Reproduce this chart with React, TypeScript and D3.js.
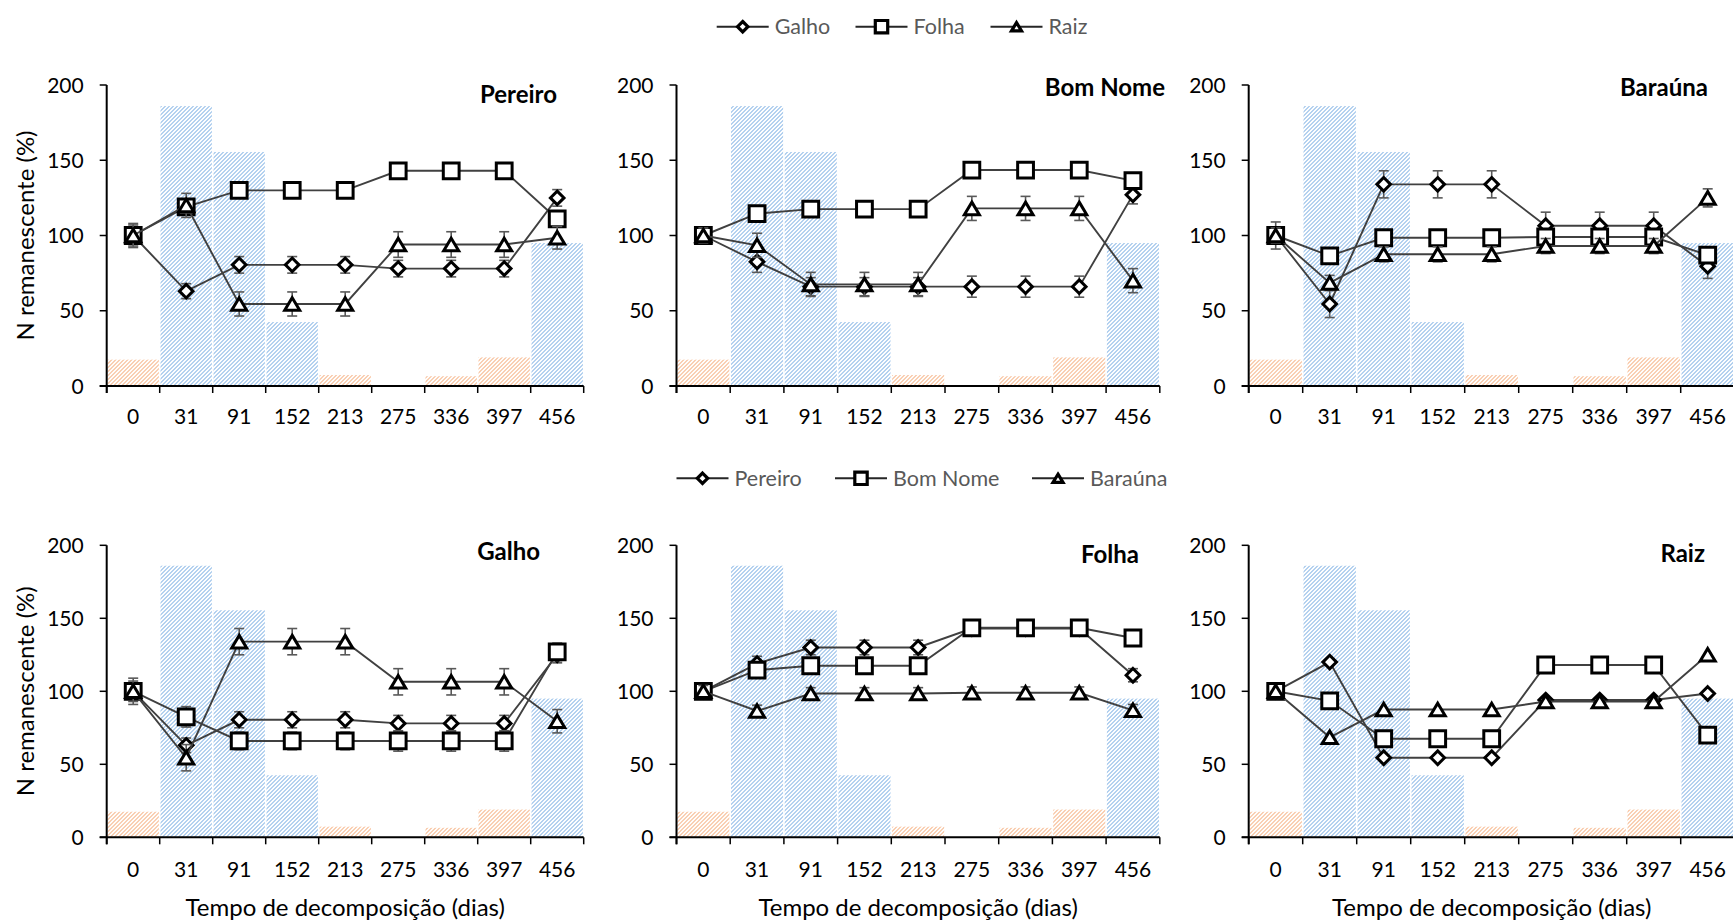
import React from "react";
import * as d3 from "d3";

// ---------- data ----------
const times = ["0", "31", "91", "152", "213", "275", "336", "397", "456"];
const sites = ["Pereiro", "Bom Nome", "Baraúna"];
const parts = ["Galho", "Folha", "Raiz"];
const yTicks = [0, 50, 100, 150, 200];

// background bars (two colours)
const barsBlue = [0, 186, 155.5, 42.5, 0, 0, 0, 0, 95];
const barsOrange = [17.5, 0, 0, 0, 7.3, 0, 6.5, 19, 0];

// N remanescente (%) per site / part
const pereiroGalho = [100, 63, 80.5, 80.5, 80.5, 78, 78, 78, 125];
const pereiroFolha = [100, 119, 130, 130, 130, 143, 143, 143, 111];
const pereiroRaiz = [100, 120, 54.5, 54.5, 54.5, 94, 94, 94, 98.5];
const bomNomeGalho = [100, 82.5, 66, 66, 66, 66, 66, 66, 127];
const bomNomeFolha = [100, 114.5, 117.5, 117.5, 117.5, 143.5, 143.5, 143.5, 136.5];
const bomNomeRaiz = [100, 93.5, 67.5, 67.5, 67.5, 118, 118, 118, 70];
const baraunaGalho = [100, 54.5, 134, 134, 134, 106.5, 106.5, 106.5, 79.5];
const baraunaFolha = [100, 86.5, 98.5, 98.5, 98.5, 99, 99, 99, 87];
const baraunaRaiz = [100, 68.5, 87.5, 87.5, 87.5, 93, 93, 93, 125];

// error (±)
const pereiroGalhoErr = [7, 5, 5.5, 5.5, 5.5, 5.5, 5.5, 5.5, 5.5];
const pereiroFolhaErr = [5, 5, 5, 5, 5, 4, 4, 4, 4.5];
const pereiroRaizErr = [8, 8, 8, 8, 8, 8.5, 8.5, 8.5, 7.5];
const bomNomeGalhoErr = [5, 7, 6, 6, 6, 7, 7, 7, 6];
const bomNomeFolhaErr = [4, 4, 4, 4, 4, 4, 4, 4, 4];
const bomNomeRaizErr = [5, 8, 8, 8, 8, 8, 8, 8, 8];
const baraunaGalhoErr = [9, 9, 9, 9, 9, 9, 9, 9, 8];
const baraunaFolhaErr = [4, 4, 4, 4, 4, 4, 4, 4, 4];
const baraunaRaizErr = [5, 5, 5, 5, 5, 5, 5, 5, 6];

const values: number[][][] = [
  [pereiroGalho, pereiroFolha, pereiroRaiz],
  [bomNomeGalho, bomNomeFolha, bomNomeRaiz],
  [baraunaGalho, baraunaFolha, baraunaRaiz],
];
const errors: number[][][] = [
  [pereiroGalhoErr, pereiroFolhaErr, pereiroRaizErr],
  [bomNomeGalhoErr, bomNomeFolhaErr, bomNomeRaizErr],
  [baraunaGalhoErr, baraunaFolhaErr, baraunaRaizErr],
];

// ---------- layout ----------
const W = 1733;
const H = 921;
const colX = [106.7, 676.5, 1248.7];
const colBand = [53, 53.7, 54];
const rows = [
  { bottom: 386, top: 85 },
  { bottom: 837.3, top: 545.3 },
];
const topTitlePos = [
  { x: 557, y: 103 },
  { x: 1165, y: 96 },
  { x: 1708, y: 96 },
];
const bottomTitlePos = [
  { x: 540, y: 560 },
  { x: 1139, y: 563 },
  { x: 1705, y: 562 },
];
const FONT = "Lato, 'Open Sans', sans-serif";
const markerKinds = ["diamond", "square", "triangle"];

function markerPath(kind: string, big: boolean) {
  if (kind === "diamond") {
    const r = big ? 6.8 : 5.2;
    return `M0,${-r}L${r},0L0,${r}L${-r},0Z`;
  }
  if (kind === "square") {
    const s = big ? 7.9 : 6.2;
    return `M${-s},${-s}H${s}V${s}H${-s}Z`;
  }
  const w = big ? 7.5 : 5;
  const h = big ? 12.6 : 8.2;
  return `M0,${-h / 2}L${w},${h / 2}L${-w},${h / 2}Z`;
}

type Series = { vals: number[]; err: number[]; kind: string };

function Panel(props: {
  x0: number;
  bw: number;
  yb: number;
  yt: number;
  series: Series[];
  title: string;
  tx: number;
  ty: number;
  showYTitle: boolean;
  showErr: boolean;
  xTitleY: number;
  tickLabelY: number;
}) {
  const { x0, bw, yb, yt, series, title, tx, ty, showYTitle, showErr } = props;
  const x = d3
    .scaleBand<string>()
    .domain(times)
    .range([x0, x0 + bw * times.length])
    .paddingInner(0)
    .paddingOuter(0);
  const y = d3.scaleLinear().domain([0, 200]).range([yb, yt]);
  const cx = (i: number) => (x(times[i]) as number) + x.bandwidth() / 2;
  const line = d3
    .line<number>()
    .x((_, i) => cx(i))
    .y((v) => y(v));
  const xEnd = x0 + bw * times.length;

  return (
    <g>
      {/* background bars */}
      {times.map((t, i) =>
        barsBlue[i] > 0 ? (
          <rect
            key={"b" + t}
            x={(x(t) as number) + 0.8}
            width={x.bandwidth() - 1.6}
            y={y(barsBlue[i])}
            height={y(0) - y(barsBlue[i])}
            fill="url(#hatchBlue)"
          />
        ) : null
      )}
      {times.map((t, i) =>
        barsOrange[i] > 0 ? (
          <rect
            key={"o" + t}
            x={(x(t) as number) + 0.8}
            width={x.bandwidth() - 1.6}
            y={y(barsOrange[i])}
            height={y(0) - y(barsOrange[i])}
            fill="url(#hatchOrange)"
          />
        ) : null
      )}

      {/* axes */}
      <line x1={x0} x2={x0} y1={yt} y2={yb + 7} stroke="#000" strokeWidth={2} />
      <line x1={x0 - 7} x2={Math.min(xEnd, W + 5)} y1={yb} y2={yb} stroke="#000" strokeWidth={2} />
      {yTicks.map((v) => (
        <g key={"yt" + v}>
          <line x1={x0 - 7} x2={x0} y1={y(v)} y2={y(v)} stroke="#000" strokeWidth={1.5} />
          <text
            x={x0 - 23}
            y={y(v)}
            dy="0.36em"
            textAnchor="end"
            fontFamily={FONT}
            fontSize={21}
            fill="#000"
          >
            {v}
          </text>
        </g>
      ))}
      {d3.range(times.length + 1).map((k) => (
        <line
          key={"xt" + k}
          x1={x0 + k * bw}
          x2={x0 + k * bw}
          y1={yb}
          y2={yb + 7}
          stroke="#000"
          strokeWidth={1.5}
        />
      ))}
      {times.map((t, i) => (
        <text
          key={"xl" + t}
          x={cx(i)}
          y={props.tickLabelY}
          textAnchor="middle"
          fontFamily={FONT}
          fontSize={21}
          fill="#000"
        >
          {t}
        </text>
      ))}

      {/* series */}
      {series.map((s, si) => (
        <g key={"s" + si}>
          <path d={line(s.vals) || ""} fill="none" stroke="#404040" strokeWidth={1.9} />
          {showErr &&
            s.vals.map((v, i) => (
              <g key={"e" + i} stroke="#595959" strokeWidth={1.6}>
                <line x1={cx(i)} x2={cx(i)} y1={y(v - s.err[i])} y2={y(v + s.err[i])} />
                <line x1={cx(i) - 5} x2={cx(i) + 5} y1={y(v - s.err[i])} y2={y(v - s.err[i])} />
                <line x1={cx(i) - 5} x2={cx(i) + 5} y1={y(v + s.err[i])} y2={y(v + s.err[i])} />
              </g>
            ))}
          {s.vals.map((v, i) => (
            <path
              key={"m" + i}
              d={markerPath(s.kind, true)}
              transform={`translate(${cx(i)},${y(v)})`}
              fill="#fff"
              stroke="#000"
              strokeWidth={3}
              strokeLinejoin="miter"
            />
          ))}
        </g>
      ))}

      {/* panel title */}
      <text
        x={tx}
        y={ty}
        textAnchor="end"
        fontFamily={FONT}
        fontWeight="bold"
        fontSize={24}
        fill="#000"
      >
        {title}
      </text>

      {/* axis titles */}
      {showYTitle && (
        <text
          transform={`translate(33.5,${(yt + yb) / 2}) rotate(-90)`}
          textAnchor="middle"
          fontFamily={FONT}
          fontSize={24}
          fill="#000"
        >
          N remanescente (%)
        </text>
      )}
      {props.xTitleY > 0 && (
        <text
          x={(x0 + x0 + bw * 9) / 2}
          y={props.xTitleY}
          textAnchor="middle"
          fontFamily={FONT}
          fontSize={24}
          fill="#000"
        >
          Tempo de decomposição (dias)
        </text>
      )}
    </g>
  );
}

function Legend(props: { labels: string[]; lineX: number[]; y: number }) {
  const { labels, lineX, y } = props;
  return (
    <g>
      {labels.map((lab, i) => {
        const x1 = lineX[i];
        const x2 = x1 + 52;
        const mx = (x1 + x2) / 2;
        return (
          <g key={lab}>
            <line x1={x1} x2={x2} y1={y} y2={y} stroke="#262626" strokeWidth={2} />
            <path
              d={markerPath(markerKinds[i], false)}
              transform={`translate(${mx},${y})`}
              fill="#fff"
              stroke="#000"
              strokeWidth={3.2}
            />
            <text
              x={x2 + 6}
              y={y}
              dy="0.36em"
              fontFamily={FONT}
              fontSize={21.5}
              fill="#595959"
            >
              {lab}
            </text>
          </g>
        );
      })}
    </g>
  );
}

// 4x4 pixel tile of an upward diagonal hatch
const hatchPixels: [number, number][] = [
  [2, 0], [3, 0], [1, 1], [2, 1], [0, 2], [1, 2], [3, 3], [0, 3],
];

function HatchPattern(props: { id: string; fg: string; bg: string }) {
  return (
    <pattern id={props.id} width={4} height={4} patternUnits="userSpaceOnUse">
      <rect width={4} height={4} fill={props.bg} shapeRendering="crispEdges" />
      {hatchPixels.map(([px, py], k) => (
        <rect key={k} x={px} y={py} width={1} height={1} fill={props.fg} shapeRendering="crispEdges" />
      ))}
    </pattern>
  );
}

export default function App() {
  const topPanels = sites.map((site, si) => ({
    title: site,
    series: parts.map((_, pi) => ({
      vals: values[si][pi],
      err: errors[si][pi],
      kind: markerKinds[pi],
    })),
  }));
  const bottomPanels = parts.map((part, pi) => ({
    title: part,
    series: sites.map((_, si) => ({
      vals: values[si][pi],
      err: errors[si][pi],
      kind: markerKinds[si],
    })),
  }));

  return (
    <svg
      width={W}
      height={H}
      viewBox={`0 0 ${W} ${H}`}
      style={{ position: "absolute", left: 0, top: 0, background: "#fff" }}
    >
      <defs>
        <HatchPattern id="hatchBlue" fg="#b4d1ef" bg="#fdfeff" />
        <HatchPattern id="hatchOrange" fg="#f9cfb3" bg="#fffdfb" />
      </defs>
      <rect width={W} height={H} fill="#fff" />

      <Legend labels={parts} lineX={[716.7, 855.5, 990.5]} y={26.7} />
      <Legend labels={sites} lineX={[676.5, 835, 1032]} y={478.3} />

      {topPanels.map((p, c) => (
        <Panel
          key={"top" + c}
          x0={colX[c]}
          bw={colBand[c]}
          yb={rows[0].bottom}
          yt={rows[0].top}
          series={p.series}
          title={p.title}
          tx={topTitlePos[c].x}
          ty={topTitlePos[c].y}
          showYTitle={c === 0}
          showErr={true}
          xTitleY={0}
          tickLabelY={423.5}
        />
      ))}
      {bottomPanels.map((p, c) => (
        <Panel
          key={"bot" + c}
          x0={colX[c]}
          bw={colBand[c]}
          yb={rows[1].bottom}
          yt={rows[1].top}
          series={p.series}
          title={p.title}
          tx={bottomTitlePos[c].x}
          ty={bottomTitlePos[c].y}
          showYTitle={c === 0}
          showErr={c !== 2}
          xTitleY={916}
          tickLabelY={877}
        />
      ))}
    </svg>
  );
}
